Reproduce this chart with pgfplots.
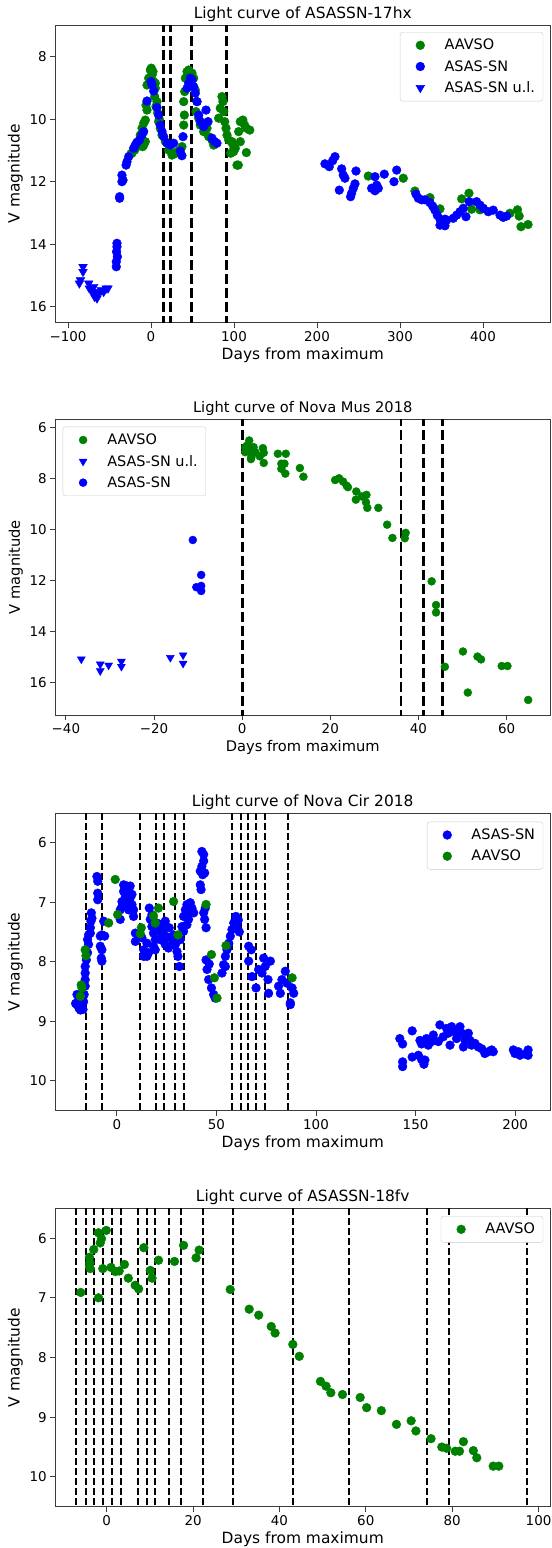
\documentclass[border=0pt]{standalone}
\usepackage{fontspec}
\setmainfont{DejaVu Sans}
\usepackage{pgfplots}
\pgfplotsset{compat=1.18}
\definecolor{mgreen}{RGB}{0,128,0}
\definecolor{mblue}{RGB}{0,0,255}
\definecolor{spine}{RGB}{60,60,60}
\pgfplotsset{
  lc/.style={
    scale only axis, width=494.9bp, y dir=reverse,
    axis line style={spine, line width=0.9bp},
    tick align=outside, tick pos=left,
    major tick length=5bp, tick style={spine, line width=0.9bp},
    tick label style={font=\fontsize{13.5}{16}\selectfont},
    label style={font=\fontsize{15.5}{18}\selectfont},
    title style={font=\fontsize{15.5}{18}\selectfont, yshift=-6bp},
    xlabel={Days from maximum}, ylabel={V magnitude},
    legend cell align=left,
    legend image code/.code={\draw[##1] plot coordinates {(0bp,0bp)}; \path (-14bp,0bp) (14bp,0bp);},
    legend style={draw=black!20, rounded corners=2.5bp, fill=white,
      font=\fontsize{14.5}{17}\selectfont, inner xsep=6bp, inner ysep=5bp, row sep=5bp,
      /tikz/every odd column/.append style={column sep=8bp}},
  },
  aav/.style={only marks, mark=*, color=mgreen, mark size=4.4bp},
  asn/.style={only marks, mark=*, color=mblue, mark size=4.4bp},
  ul/.style={only marks, mark=triangle*, color=mblue, mark size=5bp, mark options={rotate=180}},
  vlA/.style={forget plot, black, line width=2.7bp, dash pattern=on 10bp off 4bp},
  vlB/.style={forget plot, black, line width=2bp, dash pattern=on 7bp off 3bp},
}
\begin{document}
\begin{tikzpicture}
\useasboundingbox (0,0) rectangle (552bp,-1548bp);
% ---------------- Panel 1 ----------------
\begin{axis}[lc, at={(55.3bp,-25bp)}, anchor=north west, height=297.7bp,
  title={Light curve of ASASSN-17hx},
  xmin=-115.3, xmax=481, ymin=6.99, ymax=16.51,
  xtick={-100,0,100,200,300,400}, xticklabels={−100,0,100,200,300,400},
  ytick={8,10,12,14,16}, yticklabels={8,10,12,14,16},
  legend style={at={(1,1)}, anchor=north east, xshift=-7bp, yshift=-7bp}]
\addplot[aav] coordinates {
(-22.9,11.09) (-19.7,10.99) (-16.9,10.88) (-12.9,10.51) (-10.8,10.29) (-8.8,10.13) (-6.8,10.03) (-6.8,10.72) (-8.8,10.83) (-10.1,10.88) (-24,11.1)
(-4.8,9.71) (-6,9.55) (-4.8,8.91) (-2.8,8.69) (-0.8,8.43) (0.4,8.37) (1.2,8.59) (3.2,8.8) (5.2,9.01) (4.4,9.28) (7.2,9.44) (5.2,8.85) (2.4,8.48) (6,9.6) (8,9.8) (10,10.0)
(9.2,10.08) (11.2,10.29) (13.3,10.51) (17.3,10.72) (21.3,10.99) (25.3,11.15) (29.3,11.1) (31.3,11.04) (37.3,10.88)
(39.4,10.19) (40.2,9.87) (39.4,9.44) (40.6,9.12) (41.4,8.69) (43.4,8.48) (45.4,8.43) (49.4,8.53) (51.4,8.69) (53.4,9.07) (55.4,9.44) (54.2,9.76) (57.4,9.97) (59.4,10.19) (63.5,10.4) (67.5,10.29) (69.5,10.56) (73.5,10.67) (75.5,10.83)
(81.5,9.97) (83.5,9.65) (85.5,9.28) (86.7,9.44) (87.6,9.76) (88.8,10.08) (90.4,10.29) (91.6,10.51) (93.6,10.67) (97.6,10.72) (99.6,11.04) (101.6,10.93) (103.6,11.47) (105.6,10.4) (107.6,10.72) (107.6,10.08)
(98,10.77) (96,11.09) (100,10.93) (105.2,11.47) (110.7,10.03) (112.8,10.19) (114.9,10.29) (114.9,11.07) (119,10.35)
(261.8,11.82) (304,11.89) (318,12.3) (336.1,12.51) (348.2,12.87) (374.3,12.55) (383.1,12.37) (386.3,12.88) (396.4,12.9) (432.5,13.01) (441.6,12.9) (443.6,13.1) (445.8,13.44) (454.3,13.37)
};
\addlegendentry{AAVSO}
\addplot[asn] coordinates {
(-41,13.97) (-41,14.08) (-41.5,14.24) (-41.8,14.56) (-41.8,14.72) (-40.5,14.4)
(-37.8,12.48) (-37.8,12.53) (-35,11.79) (-33.7,11.95) (-35,12.0) (-30,11.47) (-28.9,11.36) (-26.9,11.2)
(-20.9,10.93) (-18.9,10.83) (-16.9,10.74) (-14,10.67) (-10.8,10.5) (-8.8,10.4) (-4.8,9.42)
(0,8.8) (1.2,8.9) (3.2,9.1) (7.2,9.63) (9.2,9.87) (11.2,10.19) (13.3,10.4) (15.3,10.56) (19.3,10.77) (23.3,10.83) (27.3,10.77)
(35.3,11.02) (37.3,11.17) (38.6,10.56) (43.4,9.01) (45.4,8.85) (47.4,8.69) (49.4,8.75) (51.4,8.96) (53.4,9.17) (55.4,9.44) (57.4,9.87) (59.4,10.08) (63.5,10.24) (66.3,9.71) (68.7,10.08) (73.5,10.61) (76.7,10.72) (79.5,10.77)
(209.6,11.43) (214.8,11.52) (218.9,11.33) (221.7,11.2) (229.7,11.59) (231.7,11.79) (233.7,11.89) (247,11.66) (245.8,12.07) (243.8,12.21) (241.7,12.37) (240.5,12.48) (226.9,12.27) (269.9,11.84) (271.9,12.11) (265.8,12.21) (273.9,12.21) (269.9,12.29) (281.1,11.76) (296,11.63) (292.8,12.0)
(319.3,12.4) (322.1,12.53) (326.1,12.58) (330.1,12.58) (336.1,12.67) (339.3,12.78) (342.1,12.91) (344.9,13.07) (348.2,13.2) (351.4,13.33) (354.2,13.41) (348.2,13.39) (356.2,13.23) (364.2,13.17) (368.3,13.07) (372.3,12.96) (376.3,12.85) (379.5,13.12) (383.5,12.64) (392.3,12.64) (396.4,12.75) (400.4,12.85) (406.4,12.96) (412.4,12.91) (420.5,13.07) (424.5,13.14) (428.5,13.1) (354.2,13.2)
};
\addlegendentry{ASAS-SN}
\addplot[ul] coordinates {
(-81.9,14.72) (-81.9,14.88) (-85,15.15) (-86.3,15.25) (-75,15.25) (-74.3,15.41) (-71,15.52) (-68,15.68) (-65,15.73) (-63,15.57) (-60,15.47) (-57,15.52) (-54,15.41) (-51.8,15.41) (-69,15.36) (-67,15.52)
};
\addlegendentry{ASAS-SN u.l.}
\pgfplotsinvokeforeach{15.3,23.7,48.6,90.8}{\addplot[vlA] coordinates {(#1,6) (#1,17)};}
\end{axis}
% ---------------- Panel 2 ----------------
\begin{axis}[lc, at={(55.3bp,-419.3bp)}, anchor=north west, height=295.7bp,
  title={Light curve of Nova Mus 2018},
  title style={font=\fontsize{14.7}{17}\selectfont},
  label style={font=\fontsize{14.7}{17}\selectfont},
  xmin=-42.4, xmax=69.9, ymin=5.69, ymax=17.28,
  xtick={-40,-20,0,20,40,60}, xticklabels={−40,−20,0,20,40,60},
  ytick={6,8,10,12,14,16}, yticklabels={6,8,10,12,14,16},
  legend style={at={(0,1)}, anchor=north west, xshift=7.4bp, yshift=-7.4bp}]
\addplot[aav, mark size=4bp] coordinates {
(0.7,6.98) (0.7,6.78) (1.1,6.72) (1.6,6.52) (1.4,6.91) (2.2,6.98) (2.6,6.78) (2.1,7.17) (3.0,6.98) (4.0,7.14) (4.7,6.82) (4.9,7.0) (4.9,7.4) (1.0,6.85) (2.0,7.25)
(8.1,7.04) (9.9,7.04) (8.9,7.43) (9.6,7.43) (8.9,7.63) (9.8,7.82) (13.1,7.6) (13.9,7.94) (21.1,8.07) (22.0,8.0) (22.9,8.13) (23.7,8.29) (24.0,8.35) (25.9,8.52) (25.8,8.84) (27.1,8.71) (28.2,8.65) (28.1,8.94) (28.4,9.16) (30.9,9.16) (32.9,9.82) (34.1,10.34) (37.1,10.14) (36.9,10.35)
(43.0,12.04) (44.0,12.97) (44.0,13.26) (46.0,15.39) (50.1,14.79) (53.4,14.99) (54.2,15.1) (51.2,16.4) (58.9,15.36) (60.2,15.36) (64.9,16.69)
};
\addlegendentry{AAVSO}
\addplot[ul, mark size=4.6bp] coordinates {
(-36.5,15.09) (-32.2,15.29) (-32.2,15.55) (-30.3,15.33) (-27.4,15.18) (-27.4,15.38) (-16.3,15.03) (-13.4,14.93) (-13.4,15.26)
};
\addlegendentry{ASAS-SN u.l.}
\addplot[asn, mark size=4bp] coordinates {
(-11.2,10.42) (-9.3,11.79) (-10.4,12.27) (-9.3,12.22) (-9.3,12.42)
};
\addlegendentry{ASAS-SN}
\pgfplotsinvokeforeach{0.1,36.05,41.1,45.4}{\addplot[vlA] coordinates {(#1,5) (#1,18)};}
\end{axis}
% ---------------- Panel 3 ----------------
\begin{axis}[lc, at={(55.3bp,-813.3bp)}, anchor=north west, height=297.4bp,
  title={Light curve of Nova Cir 2018},
  xmin=-30.9, xmax=217.6, ymin=5.51, ymax=10.5,
  xtick={0,50,100,150,200}, xticklabels={0,50,100,150,200},
  ytick={6,7,8,9,10}, yticklabels={6,7,8,9,10},
  legend style={at={(1,1)}, anchor=north east, xshift=-7bp, yshift=-8.4bp}]
\addplot[asn] coordinates {
(-20,8.55) (-19.2,8.64) (-20,8.72) (-18.3,8.81) (-17.5,8.75) (-16.7,8.67) (-16.4,8.55) (-15.9,8.41) (-15.9,8.3) (-15.9,8.19) (-15.9,8.08) (-15.3,7.97) (-14.7,7.85) (-14.2,7.71) (-14.7,7.63) (-14.2,7.55) (-13.3,7.43) (-13,7.32) (-12.8,7.18) (-12.5,7.27) (-13.3,7.52) (-20.7,8.7) (-19.0,8.78) (-17,8.8)
(-10,6.57) (-9.6,6.65) (-9.6,6.85) (-9.6,6.96)
(-8.3,7.57) (-8.3,7.74) (-7.5,7.8) (-7.8,7.94) (-7.5,7.99) (-6.6,7.32) (-6.1,7.57) (-7.5,7.55)
(1.7,7.29) (1.7,7.13) (2.6,6.99) (3.4,6.82) (3.4,6.71) (4.3,6.9) (5.1,6.73) (5.9,6.79) (6.7,6.73) (6.7,6.93) (7.6,6.87) (7.6,7.04) (8.4,7.13) (8.4,7.24) (2.6,7.07) (5.1,7.01) (5.9,7.13)
(9.3,7.52) (9.3,7.66) (11.3,7.55) (12.6,7.6) (13.5,7.8) (13.5,7.91) (15.1,7.91) (15.9,7.85) (16.3,7.1) (15.1,7.69) (16.8,7.29) (17.6,7.41) (18.4,7.52) (19.3,7.63) (19.3,7.8) (20.1,7.35) (20.9,7.49) (21.8,7.63) (21.8,7.38) (22.6,7.58) (23.5,7.46) (24.3,7.32) (24.3,7.71) (25.1,7.58) (25.9,7.77) (26.3,7.43) (27.4,7.6) (28,7.71) (28.5,7.55) (29.4,7.71) (30.2,7.83) (30.7,7.91) (31.4,8.08) (31.9,7.63) (32.7,7.41) (33.5,7.24) (34.4,7.13) (35.2,7.04) (36,7.18) (36.9,7.01) (37.7,7.1) (38.6,7.18) (35.2,7.38) (33.5,7.49) (36,7.29) (18.4,7.74) (17.6,7.21)
(42.7,6.15) (43.6,6.2) (43.6,6.31) (42.7,6.4) (41.9,6.48) (43.1,6.54) (44.1,6.51) (41.9,6.71) (42.3,6.79)
(43.6,7.18) (44.1,7.29) (44.8,7.43) (44.4,7.1)
(44.8,7.97) (45.3,8.13) (46.1,8.3) (47.5,8.44) (48.6,8.55) (49.4,8.61) (46.4,8.04)
(52.8,8.19) (53.6,8.05) (54.5,7.91) (55.3,7.8) (56.2,7.69) (57,7.57) (57.8,7.46) (58.7,7.35) (59.8,7.24) (60.3,7.41) (54.5,8.08) (61,7.3) (61.5,7.5)
(66.2,7.74) (67.5,7.8) (66.2,7.99) (67.9,8.25) (69.9,8.44) (71.2,8.13) (72.9,8.19) (73.7,7.94) (74.5,8.08) (75.9,8.3) (76.2,8.53) (77.1,7.99)
(81.2,8.41) (82.1,8.53) (82.9,8.3) (84.6,8.16) (85.4,8.36) (87.1,8.69) (88,8.44) (88.8,8.53) (87.1,8.72)
(142.1,9.29) (143.5,9.38) (143.5,9.68) (143.5,9.76) (148.3,9.16) (148.3,9.6) (151.4,9.57) (153,9.64) (154.2,9.72) (154.7,9.65) (152.2,9.32) (153,9.38) (155.5,9.29) (156.4,9.4) (158,9.34) (158.9,9.23) (162.2,9.06) (161.4,9.34) (163.9,9.26) (165.6,9.12) (166.4,9.2) (167.3,9.4) (168.1,9.09) (169.8,9.18) (170.6,9.29) (172.3,9.09) (173.1,9.2) (174,9.43) (174.8,9.32) (176.5,9.2) (177.3,9.32) (178.1,9.4) (179.8,9.37) (181.5,9.43) (183.2,9.46) (184.8,9.54) (186.5,9.51) (188.2,9.48) (189,9.51) (199.1,9.48) (199.9,9.54) (201.6,9.51) (202.4,9.57) (206.5,9.57) (206.5,9.48) (205,9.55)
};
\addlegendentry{ASAS-SN}
\addplot[aav] coordinates {
(-17.9,8.39) (-17.5,8.44) (-18.3,8.58) (-15.9,7.8) (-15.5,7.9) (-4.1,7.35) (-0.8,6.62) (0.4,7.21) (12.3,7.43) (11.8,7.53) (18.4,7.23) (20.9,7.1) (19.3,7.35) (28.5,6.99) (30.7,7.55) (44.8,7.04) (47.5,7.88) (49,8.27) (50.3,8.61) (54.8,7.73) (88,8.27)
};
\addlegendentry{AAVSO}
\pgfplotsinvokeforeach{-15.4,-7.5,11.8,19.5,23.5,29.4,33.5,58.0,62.5,65.7,69.9,74.5,86.1}{\addplot[vlB] coordinates {(#1,5) (#1,11)};}
\end{axis}
% ---------------- Panel 4 ----------------
\begin{axis}[lc, at={(55.3bp,-1208.3bp)}, anchor=north west, height=298.4bp,
  title={Light curve of ASASSN-18fv},
  xmin=-11.9, xmax=102.7, ymin=5.5, ymax=10.5,
  xtick={0,20,40,60,80,100}, xticklabels={0,20,40,60,80,100},
  ytick={6,7,8,9,10}, yticklabels={6,7,8,9,10},
  legend style={at={(1,1)}, anchor=north east, xshift=-7bp, yshift=-7.7bp}]
\addplot[aav] coordinates {
(-6.0,6.91) (-4.0,6.32) (-3.9,6.41) (-4.0,6.47) (-3.8,6.51) (-3.0,6.19) (-1.9,5.91) (-1.2,6.01) (-1.5,6.08) (-1.9,7.0) (-0.9,6.51) (-0.1,5.87) (1.0,6.49) (2.0,6.56) (2.9,6.55) (4.1,6.44) (5.0,6.67) (6.6,6.79) (7.4,6.85) (8.6,6.16) (10.1,6.54) (10.5,6.67) (12.0,6.37) (15.7,6.39) (17.8,6.12) (20.7,6.33) (21.4,6.2) (28.6,6.86) (33.0,7.19) (35.2,7.29) (38.1,7.48) (39.0,7.59) (43.1,7.78) (44.6,7.98) (49.5,8.4) (50.8,8.48) (51.9,8.59) (54.6,8.62) (58.7,8.67) (60.2,8.84) (63.6,8.89) (67.1,9.12) (70.5,9.06) (71.6,9.23) (75.1,9.36) (77.6,9.5) (78.7,9.52) (80.7,9.57) (81.7,9.57) (82.6,9.41) (84.9,9.56) (85.7,9.68) (89.5,9.82) (90.8,9.82)
};
\addlegendentry{AAVSO}
\pgfplotsinvokeforeach{-7,-4.8,-2.9,-0.9,1.3,3.2,7.3,9.25,11.1,14.35,17.2,22.2,29.3,43.2,56.2,74.2,79.3,97.4}{\addplot[vlB] coordinates {(#1,5) (#1,11)};}
\end{axis}
\end{tikzpicture}
\end{document}
